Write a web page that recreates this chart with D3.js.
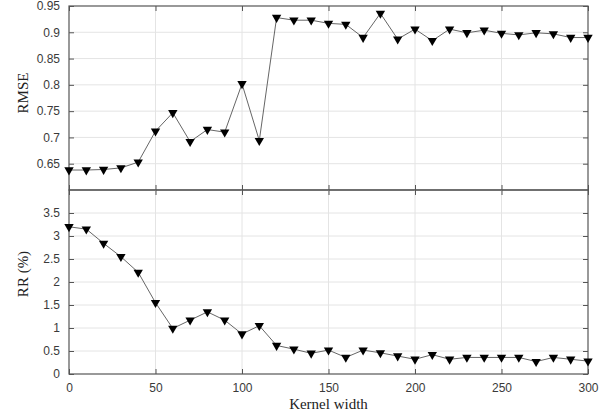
<!DOCTYPE html>
<html>
<head>
<meta charset="utf-8">
<script src="https://d3js.org/d3.v7.min.js"></script>
<style>
  body { margin: 0; background: #fff; }
  svg { display: block; }
  .tick text { font-family: "Liberation Sans", Arial, sans-serif; font-size: 12px; fill: #3a3a3a; }
</style>
</head>
<body>
<script>
// kernel width values
var kernelWidth = [0, 10, 20, 30, 40, 50, 60, 70, 80, 90, 100, 110, 120, 130, 140, 150,
                   160, 170, 180, 190, 200, 210, 220, 230, 240, 250, 260, 270, 280, 290, 300];

var rmse = [0.638, 0.638, 0.639, 0.642, 0.653, 0.712, 0.747, 0.692, 0.715, 0.710, 0.802,
            0.694, 0.928, 0.923, 0.923, 0.917, 0.915, 0.890, 0.936, 0.887, 0.906, 0.884,
            0.906, 0.899, 0.904, 0.898, 0.895, 0.899, 0.897, 0.890, 0.890];

var rr = [3.20, 3.15, 2.84, 2.55, 2.21, 1.55, 0.99, 1.17, 1.35, 1.17, 0.87, 1.05, 0.62,
          0.54, 0.45, 0.52, 0.36, 0.52, 0.46, 0.39, 0.32, 0.42, 0.32, 0.36, 0.36, 0.36,
          0.36, 0.27, 0.36, 0.32, 0.28];

var xTicks = [0, 50, 100, 150, 200, 250, 300];
var rmseTicks = [0.65, 0.7, 0.75, 0.8, 0.85, 0.9, 0.95];
var rrTicks = [0, 0.5, 1, 1.5, 2, 2.5, 3, 3.5];

var W = 609, H = 416;
var left = 69, right = 588;

var svg = d3.select("body").append("svg")
    .attr("width", W)
    .attr("height", H);

var x = d3.scaleLinear().domain([0, 300]).range([left, right]);

// one panel = box, grid, inner ticks, line with markers
function panel(values, yDomain, yTop, yBottom, yTicks, label, labelY) {
  var y = d3.scaleLinear().domain(yDomain).range([yBottom, yTop]);
  var g = svg.append("g");

  // gridlines
  g.selectAll(".gx").data(xTicks.slice(1, -1)).enter().append("line")
    .attr("x1", function(d) { return x(d); }).attr("x2", function(d) { return x(d); })
    .attr("y1", yTop).attr("y2", yBottom)
    .style("stroke", "#e4e4e4").style("stroke-width", 1);
  g.selectAll(".gy").data(yTicks.filter(function(d) { return d > yDomain[0] && d < yDomain[1]; }))
    .enter().append("line")
    .attr("x1", left).attr("x2", right)
    .attr("y1", function(d) { return y(d); }).attr("y2", function(d) { return y(d); })
    .style("stroke", "#e4e4e4").style("stroke-width", 1);

  // axes with ticks pointing inward
  g.append("g").attr("transform", "translate(" + left + ",0)")
    .call(d3.axisLeft(y).tickValues(yTicks).tickSizeInner(-5).tickSizeOuter(0).tickPadding(9)
      .tickFormat(d3.format("")));
  g.append("g").attr("transform", "translate(" + right + ",0)")
    .call(d3.axisRight(y).tickValues(yTicks).tickSizeInner(-5).tickSizeOuter(0).tickFormat(""));
  g.append("g").attr("transform", "translate(0," + yTop + ")")
    .call(d3.axisTop(x).tickValues(xTicks).tickSizeInner(-5).tickSizeOuter(0).tickFormat(""));
  var xAxis = g.append("g").attr("transform", "translate(0," + yBottom + ")")
    .call(d3.axisBottom(x).tickValues(xTicks).tickSizeInner(-5).tickSizeOuter(0).tickPadding(9)
      .tickFormat(d3.format("")));
  g.selectAll(".domain").remove();
  g.selectAll(".tick line").style("stroke", "#555");

  // frame
  g.append("rect")
    .attr("x", left).attr("y", yTop)
    .attr("width", right - left).attr("height", yBottom - yTop)
    .style("fill", "none").style("stroke", "#555").style("stroke-width", 1.2);

  var pts = kernelWidth.map(function(k, i) { return [k, values[i]]; });

  g.append("path").datum(pts)
    .attr("d", d3.line().x(function(d) { return x(d[0]); }).y(function(d) { return y(d[1]); }))
    .style("fill", "none").style("stroke", "#666").style("stroke-width", 1);

  g.selectAll(".mk").data(pts).enter().append("path")
    .attr("class", "mk")
    .attr("d", d3.symbol().type(d3.symbolTriangle).size(38))
    .attr("transform", function(d) { return "translate(" + x(d[0]) + "," + y(d[1]) + ") rotate(180)"; })
    .style("fill", "#000");

  svg.append("text")
    .attr("transform", "translate(28," + labelY + ") rotate(-90)")
    .attr("text-anchor", "middle")
    .style("font-family", "'Liberation Serif', 'Times New Roman', serif")
    .style("font-size", "15px")
    .style("fill", "#222")
    .text(label);

  return xAxis;
}

var topX = panel(rmse, [0.6, 0.95], 6, 190, rmseTicks, "RMSE", 93);
topX.selectAll(".tick text").remove();
panel(rr, [0, 4], 190, 374, rrTicks, "RR (%)", 274);

svg.append("text")
  .attr("x", x(150)).attr("y", 409)
  .attr("text-anchor", "middle")
  .style("font-family", "'Liberation Serif', 'Times New Roman', serif")
  .style("font-size", "15px")
  .style("fill", "#222")
  .text("Kernel width");
</script>
</body>
</html>
